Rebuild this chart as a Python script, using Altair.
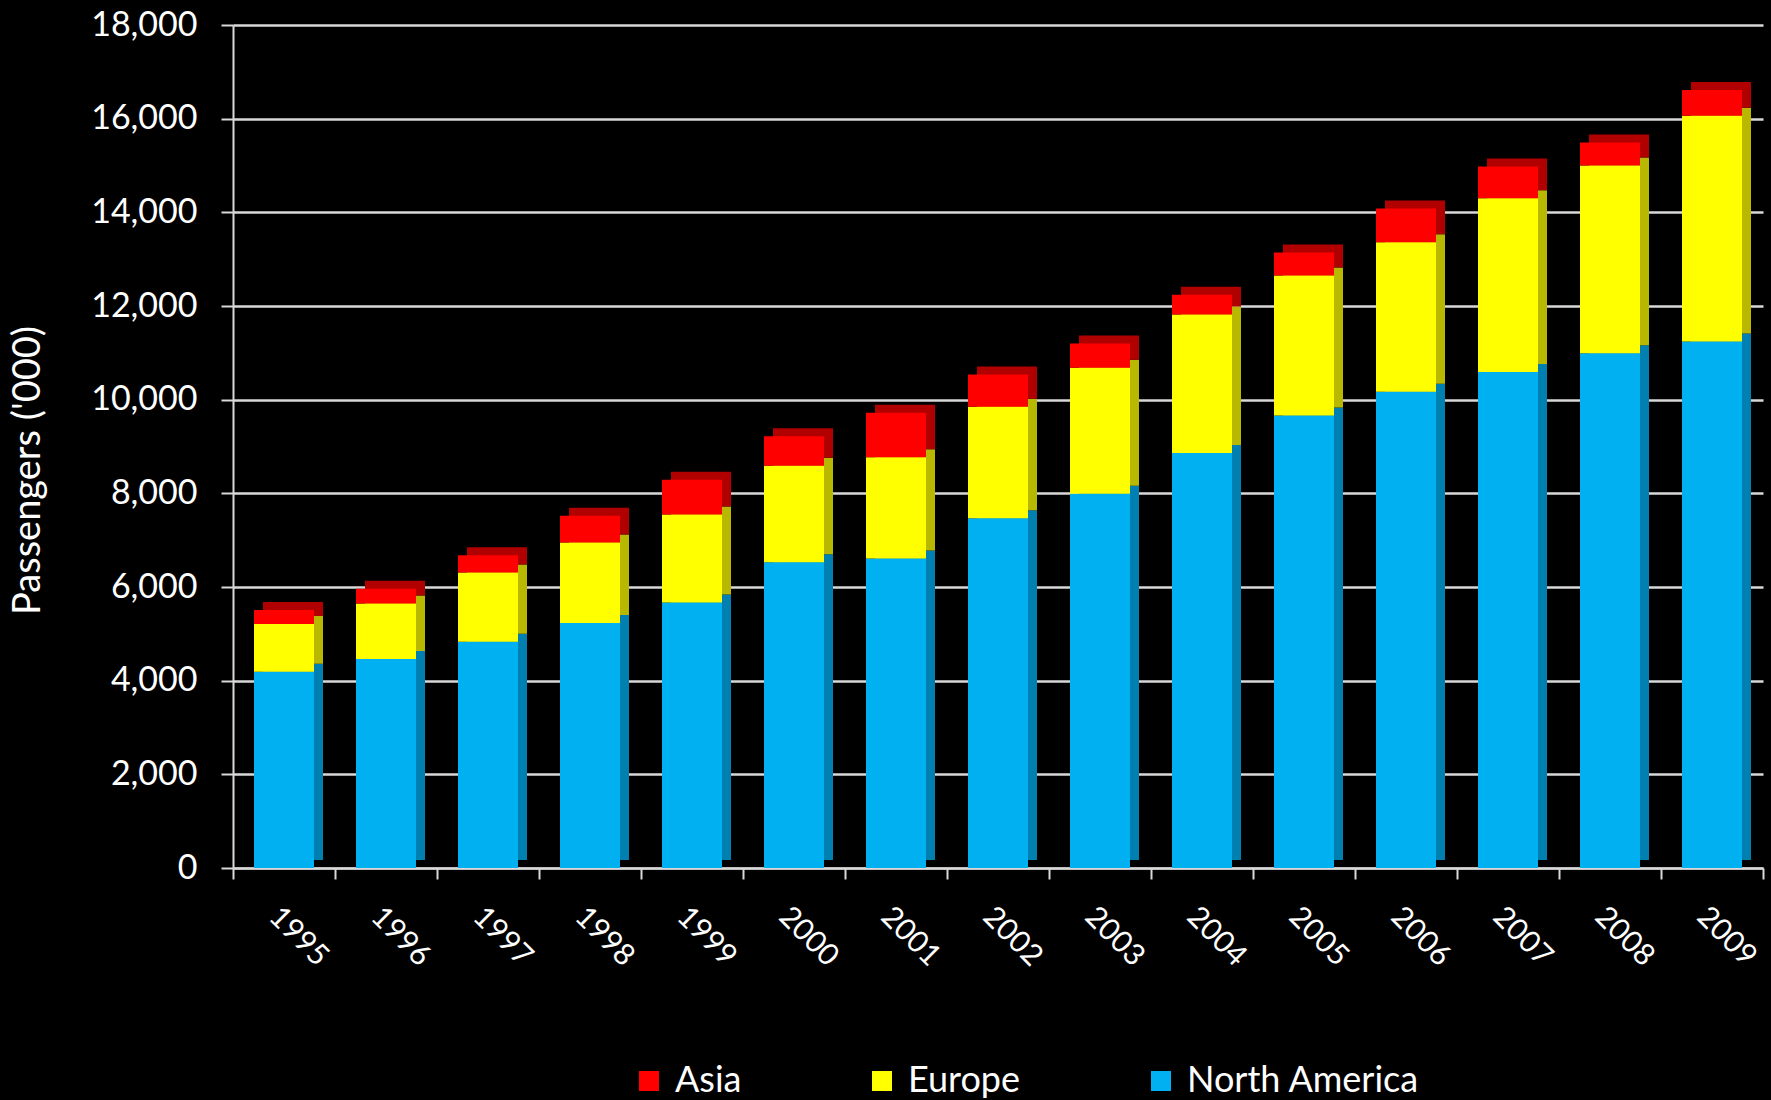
import altair as alt
import pandas as pd

years = ["1995", "1996", "1997", "1998", "1999", "2000", "2001", "2002",
         "2003", "2004", "2005", "2006", "2007", "2008", "2009"]
north_america = [4190, 4460, 4830, 5230, 5670, 6530, 6610, 7470,
                 7990, 8860, 9660, 10170, 10590, 10990, 11240]
europe = [1020, 1190, 1480, 1720, 1880, 2060, 2160, 2380,
          2690, 2960, 2990, 3190, 3710, 4010, 4820]
asia = [300, 310, 370, 570, 740, 630, 950, 690,
        520, 420, 490, 720, 680, 490, 550]
regions = ["Asia", "Europe", "North America"]
y_ticks = [0, 2000, 4000, 6000, 8000, 10000, 12000, 14000, 16000, 18000]

rows = []
for i, yr in enumerate(years):
    rows.append({"year": yr, "region": "North America", "value": north_america[i], "stack": 0})
    rows.append({"year": yr, "region": "Europe", "value": europe[i], "stack": 1})
    rows.append({"year": yr, "region": "Asia", "value": asia[i], "stack": 2})
df = pd.DataFrame(rows)

FONT = "Lato"
LINE = "#D9D9D9"
front_colors = ["#FF0000", "#FFFF00", "#00B0F0"]
side_colors = ["#B00000", "#B8B800", "#0080B0"]

x_enc = alt.X(
    "year:N", sort=years, title=None,
    scale=alt.Scale(paddingInner=0, paddingOuter=0),
    axis=alt.Axis(labelAngle=45, labelAlign="left", labelBaseline="top",
                  labelFontSize=30, labelColor="white", labelFont=FONT,
                  labelPadding=22, tickBand="extent", tickSize=11,
                  tickColor=LINE, tickWidth=2, domainColor=LINE,
                  domainWidth=2, grid=False),
)
y_enc = alt.Y(
    "value:Q", stack="zero",
    scale=alt.Scale(domain=[0, 18000], nice=False),
    axis=alt.Axis(values=y_ticks, format=",d", title="Passengers ('000)",
                  titleFontSize=38, titleColor="white", titleFont=FONT,
                  titleFontWeight="normal", titleX=-205, titleY=445,
                  titleAngle=-90, titleAlign="center", titleBaseline="middle",
                  labelFontSize=34, labelColor="white", labelFont=FONT,
                  labelPadding=24, tickSize=12, tickColor=LINE, tickWidth=2,
                  domainColor=LINE, domainWidth=2, gridColor=LINE,
                  gridWidth=2.5),
)

back = alt.Chart(df).mark_bar(size=60, xOffset=9, yOffset=-8).encode(
    x=x_enc, y=y_enc,
    color=alt.Color("region:N", scale=alt.Scale(domain=regions, range=side_colors), legend=None),
    order=alt.Order("stack:Q"),
)

front = alt.Chart(df).mark_bar(size=60).encode(
    x=x_enc, y=y_enc,
    color=alt.Color(
        "region:N", scale=alt.Scale(domain=regions, range=front_colors),
        legend=alt.Legend(orient="none", direction="horizontal", legendX=398,
                          legendY=1038, title=None, symbolType="square",
                          symbolSize=400, symbolStrokeWidth=0, symbolOpacity=1,
                          labelFontSize=36, labelColor="white", labelFont=FONT,
                          labelOffset=8, labelLimit=400, columnPadding=122)),
    order=alt.Order("stack:Q"),
)

chart = alt.layer(back, front).resolve_scale(color="independent").properties(
    width=1530, height=843,
    autosize=alt.AutoSizeParams(type="none"),
    padding={"left": 233, "top": 25, "right": 8, "bottom": 232},
    background="black",
).configure_view(stroke=None)

chart.save("out.html", embed_options={"renderer": "svg", "actions": False})
